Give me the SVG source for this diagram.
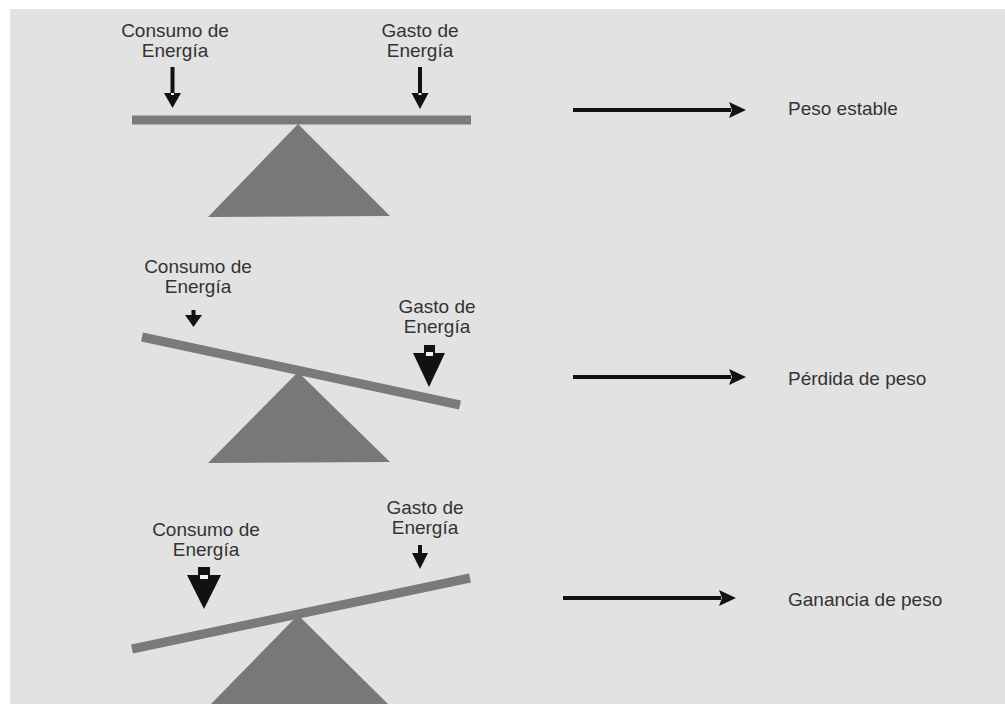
<svg xmlns="http://www.w3.org/2000/svg" width="1005" height="704" viewBox="0 0 1005 704">
<style>
.bg{fill:#e2e2e2}
.beam{stroke:#7a7a7a;stroke-width:9;stroke-linecap:butt;fill:none}
.base{fill:#787878}
.lbl{font-family:"Liberation Sans",Arial,sans-serif;font-size:19px;fill:#333;text-anchor:middle}
.res{font-family:"Liberation Sans",Arial,sans-serif;font-size:19px;fill:#333}
.blk{fill:#111}
.wht{fill:#f2f2f2}
.conn{stroke:#111;stroke-width:4;fill:none}
</style>
<defs>
<marker id="ah" markerUnits="userSpaceOnUse" markerWidth="18" markerHeight="18" refX="2" refY="8" orient="auto">
<path d="M0,0 L17,8 L0,16 L3,8 z" fill="#111"/>
</marker>
</defs>
<rect x="0" y="0" width="1005" height="704" fill="#ffffff"/>
<rect class="bg" x="10" y="9" width="995" height="695"/>

<g id="panel1">
<line class="beam" x1="132" y1="120" x2="471" y2="120"/>
<polygon class="base" points="298,124 390,216 208,217"/>
<text class="lbl" x="175" y="37">Consumo de</text>
<text class="lbl" x="175" y="57">Energía</text>
<text class="lbl" x="420" y="37">Gasto de</text>
<text class="lbl" x="420" y="57">Energía</text>
<g id="p1-arrow-left">
<rect class="blk" x="170.5" y="67" width="4" height="28"/>
<polygon class="blk" points="164,93 181,93 172.5,108"/>
<rect class="wht" x="171" y="93" width="3" height="2"/>
</g>
<g id="p1-arrow-right">
<rect class="blk" x="418" y="67" width="4" height="28"/>
<polygon class="blk" points="411.5,93 428.5,93 420,109"/>
<rect class="wht" x="418.5" y="93" width="3" height="2"/>
</g>
</g>

<g id="panel2">
<line class="beam" x1="142" y1="337" x2="460" y2="405"/>
<polygon class="base" points="298,372 390,462 208,463"/>
<text class="lbl" x="198" y="273">Consumo de</text>
<text class="lbl" x="198" y="293">Energía</text>
<text class="lbl" x="437" y="313">Gasto de</text>
<text class="lbl" x="437" y="333">Energía</text>
<g id="p2-small-arrow">
<rect class="blk" x="191.5" y="310" width="4" height="7"/>
<polygon class="blk" points="185,315 202,315 193.5,327"/>
</g>
<g id="p2-weight-arrow">
<rect class="blk" x="424" y="345" width="11" height="13"/>
<polygon class="blk" points="413,353 445,353 429,387"/>
<rect class="wht" x="426" y="352" width="7" height="4"/>
</g>
</g>

<g id="panel3">
<line class="beam" x1="132" y1="649" x2="470" y2="578"/>
<polygon class="base" points="298,615 390,706 208,707"/>
<text class="lbl" x="206" y="536">Consumo de</text>
<text class="lbl" x="206" y="556">Energía</text>
<text class="lbl" x="425" y="514">Gasto de</text>
<text class="lbl" x="425" y="534">Energía</text>
<g id="p3-small-arrow">
<rect class="blk" x="418" y="545" width="4" height="10"/>
<polygon class="blk" points="412,553 428,553 420,569"/>
</g>
<g id="p3-weight-arrow">
<rect class="blk" x="198" y="567" width="12" height="13"/>
<polygon class="blk" points="187,575 221,575 204,609"/>
<rect class="wht" x="200" y="575" width="8" height="4"/>
</g>
</g>

<g id="connectors">
<line class="conn" x1="573" y1="110" x2="731" y2="110" marker-end="url(#ah)"/>
<line class="conn" x1="573" y1="377" x2="731" y2="377" marker-end="url(#ah)"/>
<line class="conn" x1="563" y1="598" x2="721" y2="598" marker-end="url(#ah)"/>
</g>

<g id="result1"><text class="res" x="788" y="115">Peso estable</text></g>
<g id="result2"><text class="res" x="788" y="385">Pérdida de peso</text></g>
<g id="result3"><text class="res" x="788" y="606">Ganancia de peso</text></g>
</svg>
